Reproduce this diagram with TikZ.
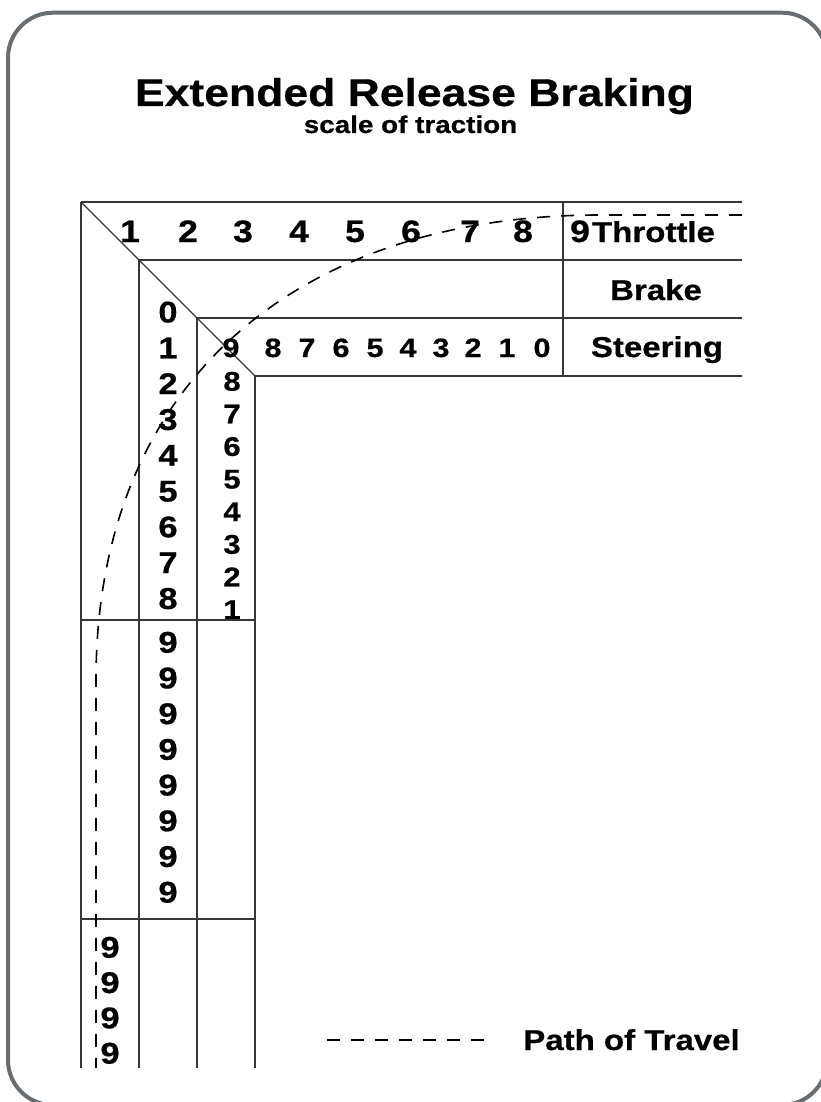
\documentclass[tikz,border=0pt]{standalone}
\usepackage{fontspec}
\setmainfont{Liberation Sans}[FakeStretch=1.15, BoldFeatures={FakeBold=0.6}]
\definecolor{framegray}{RGB}{104,109,114}
\definecolor{linegray}{RGB}{55,55,55}
\begin{document}
\begin{tikzpicture}[x=1pt,y=-1pt,
  txt/.style={inner sep=0pt, anchor=base, text=black},
  titletxt/.style={txt, font=\bfseries\fontsize{38.7}{40}\selectfont},
  subtxt/.style={txt, font=\bfseries\fontsize{24.2}{26}\selectfont},
  toprow/.style={txt, font=\bfseries\fontsize{31}{32}\selectfont},
  labtxt/.style={txt, font=\bfseries\fontsize{28.7}{30}\selectfont},
  brakecol/.style={txt, font=\bfseries\fontsize{30}{31}\selectfont},
  steerrow/.style={txt, font=\bfseries\fontsize{26.5}{27}\selectfont},
  steercol/.style={txt, font=\bfseries\fontsize{27}{28}\selectfont},
  grid/.style={draw=linegray, line width=1.1pt},
  travel/.style={draw=black, line width=1.6pt, dash pattern=on 13pt off 11pt}
]
\useasboundingbox (0,0) rectangle (821,1102);
% outer frame
\draw[framegray, line width=4pt, rounded corners=45pt] (8,12.7) rectangle (827,1105);

% titles
\node[titletxt] (title) at (414.5,106) {Extended Release Braking};
\node[subtxt] (subtitle) at (410.5,133) {scale of traction};

% table lines
\draw[grid] (81,202) -- (742,202);
\draw[grid] (139,260) -- (742,260);
\draw[grid] (197,318) -- (742,318);
\draw[grid] (255,376) -- (742,376);
\draw[grid] (81,202) -- (81,1068);
\draw[grid] (139,260) -- (139,1068);
\draw[grid] (197,318) -- (197,1068);
\draw[grid] (255,376) -- (255,1068);
\draw[grid] (563,202) -- (563,376);
\draw[grid] (81,202) -- (255,376);
\draw[grid] (81,620) -- (255,620);
\draw[grid] (81,919) -- (255,919);

% top row (throttle)
\foreach \n/\x in {1/130,2/188,3/243,4/299,5/355,6/411,7/470,8/523,9/580}
  \node[toprow] (th\n) at (\x,242) {\n};
\node[labtxt] (throttle) at (653.5,242) {Throttle};
\node[labtxt] (brake) at (656,300) {Brake};
\node[labtxt] (steering) at (657,357) {Steering};

% steering row
\foreach \n/\x in {9/231,8/273,7/307,6/341,5/375,4/408,3/441,2/473,1/507,0/542}
  \node[steerrow] (sr\n) at (\x,357) {\n};

% brake column
\foreach \n in {0,...,8}
  \node[brakecol] (bc\n) at (168,{322.5+35.8*\n}) {\n};
\foreach \j in {0,...,7}
  \node[brakecol] (bn\j) at (168,{652.7+35.7*\j}) {9};

% steering column
\foreach \n [count=\k from 0] in {8,7,6,5,4,3,2,1}
  \node[steercol] (sc\n) at (232,{390.7+32.6*\k}) {\n};

% lower left nines
\foreach \j in {0,...,3}
  \node[brakecol] (ln\j) at (110,{957.7+35.3*\j}) {9};

% path of travel
\coordinate (pA) at (742,215);
\coordinate (pB) at (600,215);
\coordinate (pC) at (96,680);
\coordinate (pD) at (96,1068);
\draw[travel] (pA) -- (pB) .. controls (300,215) and (96,380) .. (pC) -- (pD);

% legend
\coordinate (lA) at (327,1040);
\coordinate (lB) at (487,1040);
\draw[travel] (lA) -- (lB);
\node[labtxt] (legend) at (631.5,1050) {Path of Travel};
\end{tikzpicture}
\end{document}
